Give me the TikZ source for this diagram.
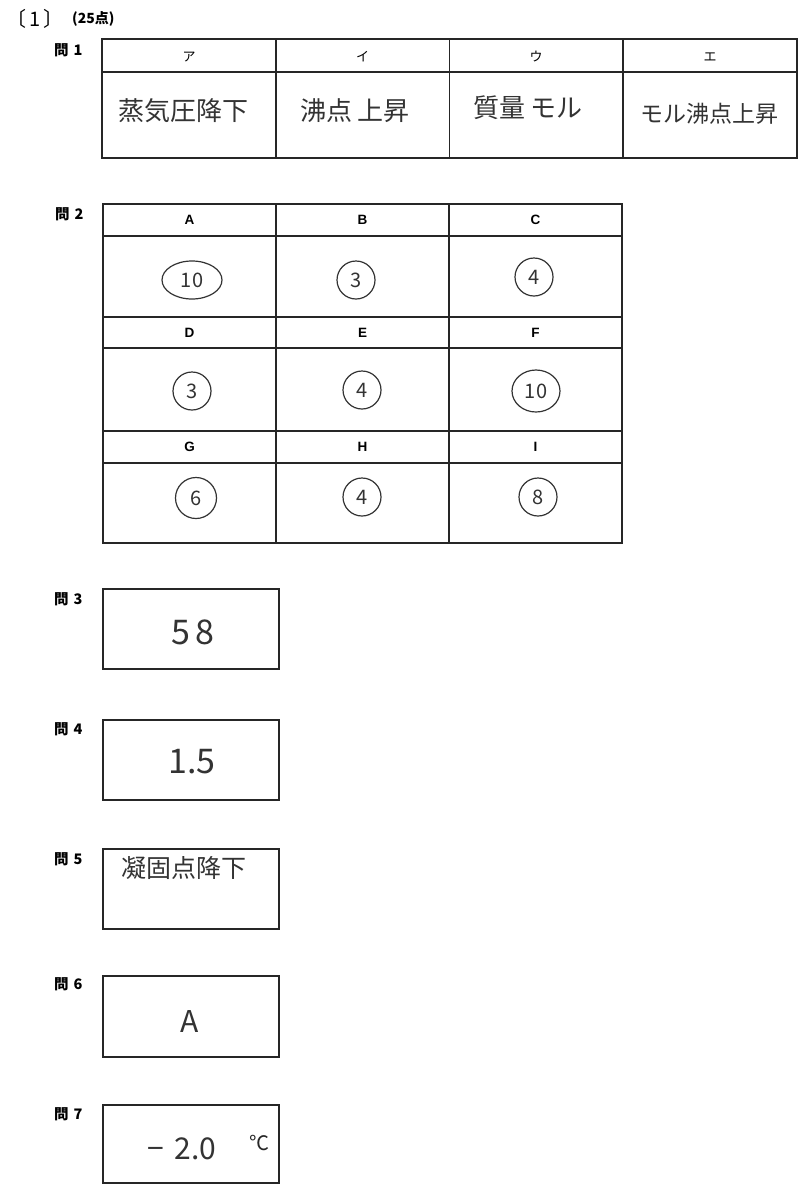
\documentclass[tikz,border=0pt]{standalone}
\usepackage{fontspec}
\setmainfont{Liberation Sans}
\newfontfamily\jp{Noto Sans CJK JP}
\usetikzlibrary{shapes.geometric}
\tikzset{
  outer/.style={line width=2.2pt, draw=black!85},
  inner/.style={line width=1.1pt, draw=black!85},
  qlab/.style={font=\jp\bfseries\fontsize{14.5}{14.5}\selectfont, anchor=west, inner sep=0pt},
  kana/.style={font=\jp\fontsize{13}{13}\selectfont, inner sep=0pt},
  letter/.style={font=\bfseries\fontsize{13.5}{13.5}\selectfont, inner sep=0pt},
  hand/.style={font=\jp\fontsize{25}{25}\selectfont, text=black!80, inner sep=0pt},
  handnum/.style={font=\jp\fontsize{34}{34}\selectfont, text=black!80, inner sep=0pt},
  circnum/.style={circle, draw=black!80, line width=1.2pt, minimum size=38pt, inner sep=0pt,
                  font=\jp\fontsize{20}{20}\selectfont, text=black!80},
  ovalnum/.style={ellipse, draw=black!80, line width=1.2pt, minimum width=60pt, minimum height=38pt,
                  inner sep=0pt, font=\jp\fontsize{20}{20}\selectfont, text=black!80}
}
\begin{document}
\begin{tikzpicture}[x=1pt,y=-1pt]
\useasboundingbox (0,0) rectangle (804,1200);
\fill[white] (0,0) rectangle (804,1200);

% heading
\node[font=\jp\fontsize{20}{20}\selectfont, anchor=west, inner sep=0pt] (head) at (6,19) {〔\,1\,〕};
\node[font=\jp\bfseries\fontsize{14}{14}\selectfont, anchor=west, inner sep=0pt] (pts) at (72,19) {(25点)};

% ---------- 問1 ----------
\node[qlab] (q1) at (54,50) {問\hspace{5pt}1};
\draw[outer] (102,39) rectangle (797,158);
\draw[inner] (102,72) -- (797,72);
\foreach \x in {276,449.5,623} \draw[inner] (\x,39) -- (\x,158);
\node[kana] (ka) at (189,57) {ア};
\node[kana] (ki) at (362.5,57) {イ};
\node[kana] (ku) at (536,57) {ウ};
\node[kana] (ke) at (710,57) {エ};
\node[hand, font=\jp\fontsize{26}{26}\selectfont] (a1) at (183,111) {蒸気圧降下};
\node[hand, font=\jp\fontsize{26}{26}\selectfont] (a2) at (355,111) {沸点\,上昇};
\node[hand, font=\jp\fontsize{26}{26}\selectfont] (a3) at (528,108) {質量\,モル};
\node[hand, font=\jp\fontsize{23}{23}\selectfont] (a4) at (709,114) {モル沸点上昇};

% ---------- 問2 ----------
\node[qlab] (q2) at (55,214) {問\hspace{5pt}2};
\draw[outer] (103,204) rectangle (622,543);
\foreach \y in {236,317,348,431,463} \draw[inner] (103,\y) -- (622,\y);
\foreach \x in {276,449} \draw[inner] (\x,204) -- (\x,543);
\node[letter] (hA) at (189.5,220) {A};
\node[letter] (hB) at (362.5,220) {B};
\node[letter] (hC) at (535.5,220) {C};
\node[letter] (hD) at (189.5,333) {D};
\node[letter] (hE) at (362.5,333) {E};
\node[letter] (hF) at (535.5,333) {F};
\node[letter] (hG) at (189.5,447) {G};
\node[letter] (hH) at (362.5,447) {H};
\node[letter] (hI) at (535.5,447) {I};
\node[ovalnum] (cA) at (192,280) {10};
\node[circnum] (cB) at (356,280) {3};
\node[circnum] (cC) at (534,277) {4};
\node[circnum] (cD) at (192,391) {3};
\node[circnum] (cE) at (362,390) {4};
\node[ovalnum, minimum width=48pt, minimum height=42pt] (cF) at (536,391) {10};
\node[circnum, minimum size=41pt] (cG) at (196,498) {6};
\node[circnum] (cH) at (362,497) {4};
\node[circnum] (cI) at (538,497) {8};

% ---------- 問3 ----------
\node[qlab] (q3) at (54,599) {問\hspace{5pt}3};
\draw[outer] (103,589) rectangle (279,669);
\node[handnum] (a5) at (193,632) {5\,8};

% ---------- 問4 ----------
\node[qlab] (q4) at (54,729) {問\hspace{5pt}4};
\draw[outer] (103,720) rectangle (279,800);
\node[handnum] (a6) at (192,762) {1.5};

% ---------- 問5 ----------
\node[qlab] (q5) at (54,859) {問\hspace{5pt}5};
\draw[outer] (103,849) rectangle (279,929);
\node[hand, font=\jp\fontsize{25}{25}\selectfont] (a7) at (184,868) {凝固点降下};

% ---------- 問6 ----------
\node[qlab] (q6) at (54,984) {問\hspace{5pt}6};
\draw[outer] (103,976) rectangle (279,1057);
\node[handnum, font=\jp\fontsize{30}{30}\selectfont] (a8) at (190,1021) {A};

% ---------- 問7 ----------
\node[qlab] (q7) at (54,1114) {問\hspace{5pt}7};
\draw[outer] (103,1105) rectangle (279,1183);
\node[handnum, font=\jp\fontsize{30}{30}\selectfont] (a9) at (182,1149) {−\,\,2.0};
\node[font=\jp\fontsize{20}{20}\selectfont, text=black!85, inner sep=0pt] (unit) at (259,1143) {℃};
\end{tikzpicture}
\end{document}
